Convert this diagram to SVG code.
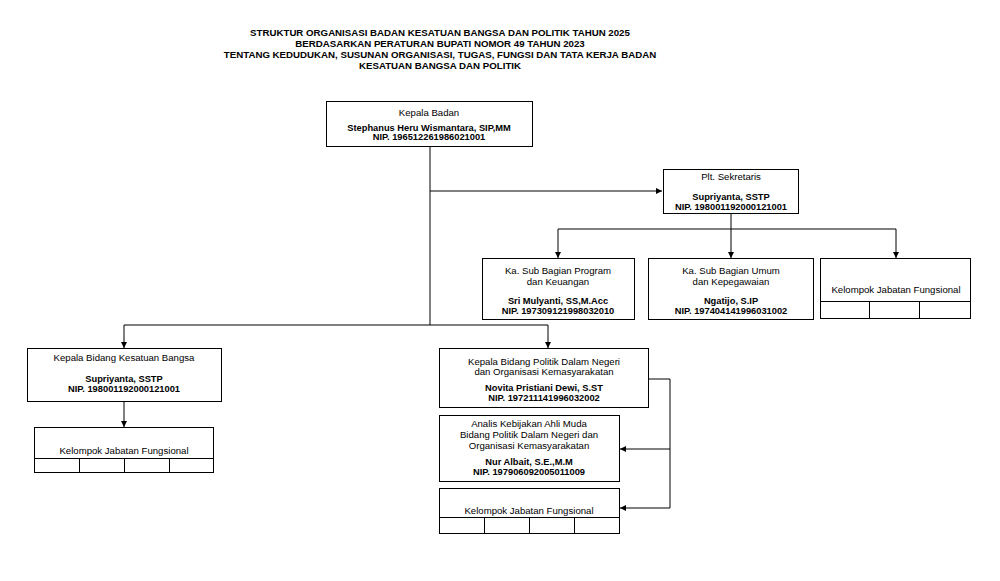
<svg xmlns="http://www.w3.org/2000/svg" width="1000" height="581" viewBox="0 0 1000 581">
<defs>
<marker id="arr" viewBox="0 0 10 10" refX="10" refY="5" markerWidth="6" markerHeight="6" orient="auto" markerUnits="userSpaceOnUse">
<path d="M0,0 L10,5 L0,10 z" fill="#000"/>
</marker>
<style>
.box{fill:#fff;stroke:#000;stroke-width:1}
.ln{fill:none;stroke:#000;stroke-width:1}
text{font-family:"Liberation Sans",Arial,sans-serif;font-size:9.6px;fill:#000;text-anchor:middle}
.t{font-weight:bold;font-size:9.7px}
.n{font-weight:bold;font-size:9.3px}
</style>
</defs>
<rect width="1000" height="581" fill="#fff"/>
<g id="title">
<text x="440" y="36" class="t">STRUKTUR ORGANISASI BADAN KESATUAN BANGSA DAN POLITIK TAHUN 2025</text>
<text x="440" y="47" class="t">BERDASARKAN PERATURAN BUPATI NOMOR 49 TAHUN 2023</text>
<text x="440" y="58" class="t">TENTANG KEDUDUKAN, SUSUNAN ORGANISASI, TUGAS, FUNGSI DAN TATA KERJA BADAN</text>
<text x="440" y="69" class="t">KESATUAN BANGSA DAN POLITIK</text>
</g>
<g id="connectors">
<path class="ln" d="M430,147 V325"/>
<path class="ln" d="M430,191 H662" marker-end="url(#arr)"/>
<path class="ln" d="M731,214 V229"/>
<path class="ln" d="M558,229 H896"/>
<path class="ln" d="M558,229 V258" marker-end="url(#arr)"/>
<path class="ln" d="M731,229 V258" marker-end="url(#arr)"/>
<path class="ln" d="M896,229 V258" marker-end="url(#arr)"/>
<path class="ln" d="M124,325 H548"/>
<path class="ln" d="M124,325 V348" marker-end="url(#arr)"/>
<path class="ln" d="M548,325 V348" marker-end="url(#arr)"/>
<path class="ln" d="M124,401 V427" marker-end="url(#arr)"/>
<path class="ln" d="M649,379 H670 V508"/>
<path class="ln" d="M670,449 H620" marker-end="url(#arr)"/>
<path class="ln" d="M670,508 H620" marker-end="url(#arr)"/>
</g>
<g id="kepala-badan">
<rect class="box" x="326.5" y="101.5" width="206" height="45"/>
<text x="429" y="116">Kepala Badan</text>
<text x="429" y="131" class="n">Stephanus Heru Wismantara, SIP,MM</text>
<text x="429" y="140" class="n">NIP. 196512261986021001</text>
</g>
<g id="sekretaris">
<rect class="box" x="663.5" y="169.5" width="135" height="44"/>
<text x="731" y="180">Plt. Sekretaris</text>
<text x="731" y="200" class="n">Supriyanta, SSTP</text>
<text x="731" y="210" class="n">NIP. 198001192000121001</text>
</g>
<g id="subbag-program">
<rect class="box" x="482.5" y="258.5" width="152" height="61"/>
<text x="558" y="274">Ka. Sub Bagian Program</text>
<text x="558" y="285">dan Keuangan</text>
<text x="558" y="304" class="n">Sri Mulyanti, SS,M.Acc</text>
<text x="558" y="314" class="n">NIP. 197309121998032010</text>
</g>
<g id="subbag-umum">
<rect class="box" x="648.5" y="258.5" width="165" height="61"/>
<text x="731" y="274">Ka. Sub Bagian Umum</text>
<text x="731" y="285">dan Kepegawaian</text>
<text x="731" y="304" class="n">Ngatijo, S.IP</text>
<text x="731" y="314" class="n">NIP. 197404141996031002</text>
</g>
<g id="jf-sekretariat">
<rect class="box" x="820.5" y="258.5" width="150" height="60"/>
<path class="ln" d="M820.5,301.5 H970.5 M869.5,301.5 V318.5 M919.5,301.5 V318.5"/>
<text x="896" y="293">Kelompok Jabatan Fungsional</text>
</g>
<g id="bidang-kesbang">
<rect class="box" x="27.5" y="348.5" width="194" height="53"/>
<text x="124" y="361">Kepala Bidang Kesatuan Bangsa</text>
<text x="124" y="382" class="n">Supriyanta, SSTP</text>
<text x="124" y="392" class="n">NIP. 198001192000121001</text>
</g>
<g id="jf-kesbang">
<rect class="box" x="34.5" y="427.5" width="179" height="45"/>
<path class="ln" d="M34.5,458.5 H213.5 M79.5,458.5 V472.5 M124.5,458.5 V472.5 M169.5,458.5 V472.5"/>
<text x="124" y="454">Kelompok Jabatan Fungsional</text>
</g>
<g id="bidang-politik">
<rect class="box" x="439.5" y="348.5" width="209" height="59"/>
<text x="544" y="365">Kepala Bidang Politik Dalam Negeri</text>
<text x="544" y="375">dan Organisasi Kemasyarakatan</text>
<text x="544" y="391" class="n">Novita Pristiani Dewi, S.ST</text>
<text x="544" y="401" class="n">NIP. 197211141996032002</text>
</g>
<g id="analis">
<rect class="box" x="439.5" y="415.5" width="180" height="66"/>
<text x="529" y="427">Analis Kebijakan Ahli Muda</text>
<text x="529" y="438">Bidang Politik Dalam Negeri dan</text>
<text x="529" y="449">Organisasi Kemasyarakatan</text>
<text x="529" y="465" class="n">Nur Albait, S.E.,M.M</text>
<text x="529" y="475" class="n">NIP. 197906092005011009</text>
</g>
<g id="jf-politik">
<rect class="box" x="439.5" y="488.5" width="180" height="45"/>
<path class="ln" d="M439.5,517.5 H619.5 M484.5,517.5 V533.5 M529.5,517.5 V533.5 M574.5,517.5 V533.5"/>
<text x="529" y="514">Kelompok Jabatan Fungsional</text>
</g>
</svg>
